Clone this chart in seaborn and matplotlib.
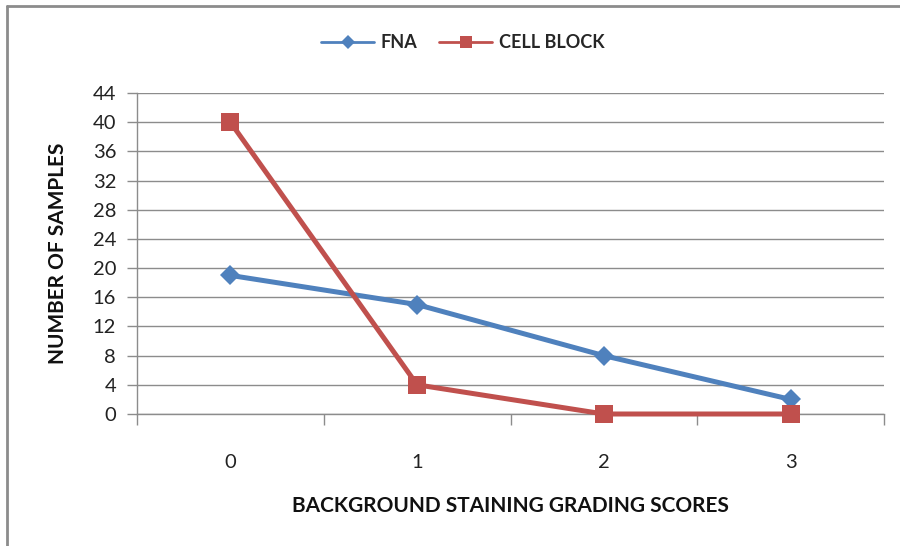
import matplotlib
matplotlib.use("Agg")
import matplotlib.pyplot as plt
import seaborn as sns
import pandas as pd
import numpy as np
from matplotlib.lines import Line2D

scores = [0, 1, 2, 3]
fna = [19, 15, 8, 2]
cell_block = [40, 4, 0, 0]
series_names = ["FNA", "CELL BLOCK"]
y_ticks = list(range(0, 45, 4))

df = pd.DataFrame({
    "score": scores * 2,
    "value": fna + cell_block,
    "series": [series_names[0]] * 4 + [series_names[1]] * 4,
})

sns.set_theme(style="white")
plt.rcParams['font.family'] = ['Lato', 'DejaVu Sans']

fig = plt.figure(figsize=(9, 5.46), dpi=100)
ax = fig.add_axes([137/900, 1-414/546, (884-137)/900, (414-93)/546])

palette = {"FNA": "#4F81BD", "CELL BLOCK": "#C0504D"}
markers = {"FNA": "D", "CELL BLOCK": "s"}
sns.lineplot(data=df, x="score", y="value", hue="series", style="series",
             markers=markers, dashes=False, palette=palette, linewidth=3.6,
             markersize=11, markeredgewidth=0, ax=ax, legend=False)
for ln in ax.get_lines():
    ln.set_clip_on(False)
    ln.set_zorder(3)
    if ln.get_marker() == "D":
        ln.set_markersize(10.5)
    elif ln.get_marker() == "s":
        ln.set_markersize(13)

ax.set_xlim(-0.5, 3.5)
ax.set_ylim(0, 44)
ax.set_yticks(y_ticks)
ax.set_xticks(scores)
ax.set_xticks([-0.5, 0.5, 1.5, 2.5, 3.5], minor=True)
ax.grid(axis="y", color="#8c8c8c", linewidth=1.0)
ax.set_axisbelow(True)
for s in ["top", "right"]:
    ax.spines[s].set_visible(False)
ax.spines["left"].set_color("#8c8c8c")
ax.spines["bottom"].set_color("#8c8c8c")
ax.spines["left"].set_linewidth(1.0)
ax.spines["bottom"].set_linewidth(1.0)
ax.tick_params(axis="y", which="major", length=7, color="#8c8c8c", width=1,
               labelsize=14.5, pad=8, left=True)
ax.tick_params(axis="x", which="major", length=0, labelsize=14.5, pad=29, bottom=True)
ax.tick_params(axis="x", which="minor", length=8, color="#8c8c8c", width=1,
               direction="out", bottom=True)
for lbl in ax.get_xticklabels() + ax.get_yticklabels():
    lbl.set_color("#222222")

ax.set_xlabel("BACKGROUND STAINING GRADING SCORES", fontsize=15, fontweight="bold",
              labelpad=18, color="#111111")
ax.set_ylabel("NUMBER OF SAMPLES", fontsize=15, fontweight="bold",
              labelpad=18, color="#111111")

handles = [Line2D([], [], color=palette[n], marker=markers[n], linewidth=2,
                  markersize=(7 if markers[n] == "D" else 9), markeredgewidth=0)
           for n in series_names]
fig.legend(handles, series_names, loc="center", bbox_to_anchor=(463/900, 1-43/546),
           ncol=2, frameon=False, prop={"weight": "bold", "size": 13},
           handlelength=2.9, columnspacing=1.2, handletextpad=0.4)

fig.add_artist(Line2D([7/900, 1.0], [1-6/546, 1-6/546], transform=fig.transFigure,
                      color="#8c8c8c", linewidth=2))
fig.add_artist(Line2D([7/900, 7/900], [0, 1-6/546], transform=fig.transFigure,
                      color="#8c8c8c", linewidth=2))

fig.savefig("out.png", dpi=100)
